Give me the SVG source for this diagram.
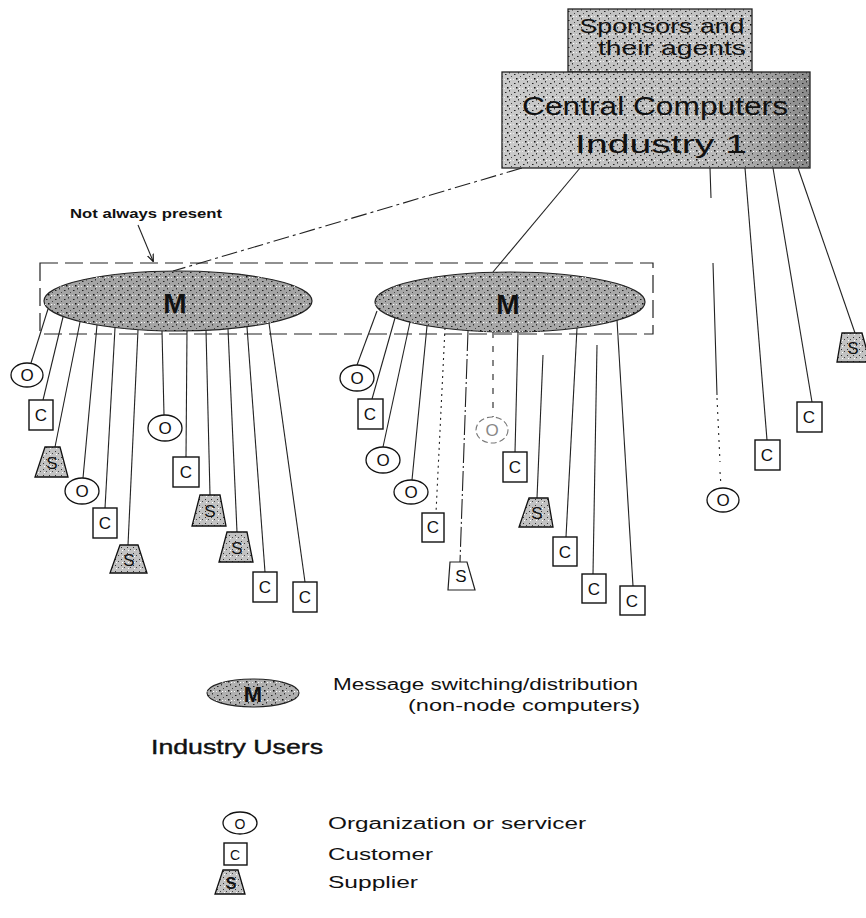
<svg xmlns="http://www.w3.org/2000/svg" width="866" height="918" viewBox="0 0 866 918">
<style>
  text { font-family: "Liberation Sans", Arial, sans-serif; fill: #111; }
  .lbl { font-size: 17px; text-anchor: middle; }
  .big { font-size: 26px; text-anchor: middle; }
  .mid { font-size: 21px; text-anchor: middle; }
  .m { font-size: 28px; font-weight: bold; text-anchor: middle; }
  .leg { font-size: 16px; }
  .o { fill: #fff; stroke: #111; stroke-width: 1.3; }
  .c { fill: #fff; stroke: #111; stroke-width: 1.4; }
  .s { fill: url(#sfill); stroke: #111; stroke-width: 1.3; }
  .ln { fill: none; stroke: #222; stroke-width: 1.1; }
  .noise { fill: url(#speck); }
</style>
<defs>
  <pattern id="speck" width="9" height="9" patternUnits="userSpaceOnUse">
    <rect x="1" y="2" width="1.5" height="1" fill="#222"/>
    <rect x="5" y="0" width="1" height="1.5" fill="#333"/>
    <rect x="3" y="6" width="1.5" height="1.5" fill="#111"/>
    <rect x="7" y="4" width="1" height="1" fill="#444"/>
    <rect x="0" y="7" width="1" height="1" fill="#eee"/>
    <rect x="6" y="7" width="1.2" height="1" fill="#fff"/>
  </pattern>
  <pattern id="sfill" width="6" height="6" patternUnits="userSpaceOnUse">
    <rect width="6" height="6" fill="#c2c2c2"/>
    <rect x="1" y="1" width="1" height="1" fill="#333"/>
    <rect x="4" y="3" width="1" height="1" fill="#444"/>
    <rect x="2" y="4" width="1" height="1" fill="#fff"/>
  </pattern>
  <linearGradient id="boxg" x1="0" y1="0" x2="1" y2="0">
    <stop offset="0" stop-color="#cacaca"/>
    <stop offset="0.7" stop-color="#bababa"/>
    <stop offset="1" stop-color="#8a8a8a"/>
  </linearGradient>
  <marker id="arr" viewBox="0 0 10 10" refX="9" refY="5" markerWidth="7" markerHeight="7" orient="auto">
    <path d="M0,1 L10,5 L0,9" fill="none" stroke="#111" stroke-width="1.5"/>
  </marker>
</defs>

<rect width="866" height="918" fill="#fff"/>

<g id="not-always-present">
  <rect x="40" y="263" width="613" height="71" fill="none" stroke="#222" stroke-width="1.2" stroke-dasharray="18 7"/>
  <text x="70" y="218" font-size="13" font-weight="bold" textLength="152" lengthAdjust="spacingAndGlyphs">Not always present</text>
</g>

<g id="connectors">
  <path class="ln" d="M522,168 L173,271" stroke-dasharray="16 4 3 4"/>
  <path class="ln" d="M580,168 L493,272"/>
  <path class="ln" d="M138,225 L153,261" marker-end="url(#arr)"/>
  <path class="ln" d="M710,168 L711,198 M713,263 L717,395"/>
  <path class="ln" d="M717,398 L720,462 M720,472 L721,486" stroke-dasharray="2 5"/>
  <path class="ln" d="M745,168 L767,440"/>
  <path class="ln" d="M773,168 L812,402"/>
  <path class="ln" d="M798,168 L855,333"/>
  <path class="ln" d="M48,309 L31,363"/>
  <path class="ln" d="M63,317 L43,400"/>
  <path class="ln" d="M80,322 L55,447"/>
  <path class="ln" d="M97,325 L83,478"/>
  <path class="ln" d="M115,328 L105,508"/>
  <path class="ln" d="M138,330 L128,545"/>
  <path class="ln" d="M162,331 L164,415"/>
  <path class="ln" d="M187,331 L186,457"/>
  <path class="ln" d="M206,330 L210,495"/>
  <path class="ln" d="M228,329 L237,532"/>
  <path class="ln" d="M247,327 L265,572"/>
  <path class="ln" d="M269,323 L305,582"/>
  <path class="ln" d="M377,311 L357,365"/>
  <path class="ln" d="M395,318 L372,399"/>
  <path class="ln" d="M410,322 L383,447"/>
  <path class="ln" d="M427,326 L412,480"/>
  <path class="ln" d="M445,328 L436,513" stroke-dasharray="2 4" stroke="#555"/>
  <path class="ln" d="M468,331 L460,562" stroke-dasharray="20 3 2 3"/>
  <path class="ln" d="M493,332 L493,417" stroke-dasharray="6 8" stroke="#666"/>
  <path class="ln" d="M518,332 L515,452"/>
  <path class="ln" d="M543,355 L537,498"/>
  <path class="ln" d="M577,328 L566,537"/>
  <path class="ln" d="M597,345 L593,574"/>
  <path class="ln" d="M617,320 L633,586"/>
</g>

<g id="sponsors">
  <rect x="568" y="9" width="184" height="63" fill="#c2c2c2" stroke="#222" stroke-width="1.3"/>
  <rect x="568" y="9" width="184" height="63" class="noise"/>
  <text x="662" y="33" class="mid" textLength="165" lengthAdjust="spacingAndGlyphs">Sponsors and</text>
  <text x="672" y="55" class="mid" textLength="148" lengthAdjust="spacingAndGlyphs">their agents</text>
</g>

<g id="central-computers">
  <rect x="502" y="72" width="308" height="96" fill="url(#boxg)" stroke="#222" stroke-width="1.3"/>
  <rect x="502" y="72" width="308" height="96" class="noise"/>
  <text x="655" y="115" class="big" textLength="266" lengthAdjust="spacingAndGlyphs">Central Computers</text>
  <text x="661" y="153" class="big" textLength="172" lengthAdjust="spacingAndGlyphs">Industry 1</text>
</g>

<g id="m-left">
  <ellipse cx="178" cy="301" rx="134" ry="30" fill="#a4a4a4" stroke="#222" stroke-width="1.2"/>
  <ellipse cx="178" cy="301" rx="134" ry="30" class="noise"/>
  <text x="175" y="313" class="m">M</text>
</g>
<g id="m-middle">
  <ellipse cx="510" cy="302" rx="135" ry="30" fill="#a8a8a8" stroke="#222" stroke-width="1.2"/>
  <ellipse cx="510" cy="302" rx="135" ry="30" class="noise"/>
  <text x="508" y="314" class="m">M</text>
</g>

<g id="l1"><ellipse cx="27" cy="375" rx="16" ry="12" class="o"/><text x="27" y="381" class="lbl">O</text></g>
<g id="l2"><rect x="29" y="400" width="24" height="30" class="c"/><text x="41" y="421" class="lbl">C</text></g>
<g id="l3"><polygon points="45,447 60,447 68,477 35,477" class="s"/><text x="52" y="469" class="lbl">S</text></g>
<g id="l4"><ellipse cx="82" cy="491" rx="17" ry="13" class="o"/><text x="82" y="497" class="lbl">O</text></g>
<g id="l5"><rect x="93" y="508" width="24" height="30" class="c"/><text x="105" y="529" class="lbl">C</text></g>
<g id="l6"><polygon points="120,545 138,545 147,573 110,573" class="s"/><text x="129" y="566" class="lbl">S</text></g>
<g id="l7"><ellipse cx="165" cy="428" rx="17" ry="13" class="o"/><text x="165" y="434" class="lbl">O</text></g>
<g id="l8"><rect x="173" y="457" width="26" height="30" class="c"/><text x="186" y="478" class="lbl">C</text></g>
<g id="l9"><polygon points="200,495 220,495 226,526 192,526" class="s"/><text x="210" y="517" class="lbl">S</text></g>
<g id="l10"><polygon points="227,532 247,532 253,562 219,562" class="s"/><text x="237" y="554" class="lbl">S</text></g>
<g id="l11"><rect x="253" y="572" width="24" height="30" class="c"/><text x="265" y="593" class="lbl">C</text></g>
<g id="l12"><rect x="293" y="582" width="24" height="30" class="c"/><text x="305" y="603" class="lbl">C</text></g>

<g id="m1"><ellipse cx="357" cy="378" rx="17" ry="13" class="o"/><text x="357" y="384" class="lbl">O</text></g>
<g id="m2"><rect x="358" y="399" width="25" height="30" class="c"/><text x="370" y="420" class="lbl">C</text></g>
<g id="m3"><ellipse cx="383" cy="460" rx="17" ry="13" class="o"/><text x="383" y="466" class="lbl">O</text></g>
<g id="m4"><ellipse cx="411" cy="492" rx="17" ry="12" class="o"/><text x="411" y="498" class="lbl">O</text></g>
<g id="m5"><rect x="422" y="513" width="22" height="29" class="c"/><text x="433" y="533" class="lbl">C</text></g>
<g id="m6"><polygon points="450,562 467,562 475,590 448,590" fill="#fff" stroke="#222" stroke-width="1.2"/><text x="461" y="582" class="lbl">S</text></g>
<g id="m7"><ellipse cx="492" cy="430" rx="16" ry="13" fill="#fff" stroke="#777" stroke-width="1.1" stroke-dasharray="6 3"/><text x="492" y="436" class="lbl" style="fill:#888">O</text></g>
<g id="m8"><rect x="503" y="452" width="24" height="30" class="c"/><text x="515" y="473" class="lbl">C</text></g>
<g id="m9"><polygon points="529,498 548,498 553,527 519,527" class="s"/><text x="537" y="519" class="lbl">S</text></g>
<g id="m10"><rect x="553" y="537" width="24" height="29" class="c"/><text x="565" y="558" class="lbl">C</text></g>
<g id="m11"><rect x="582" y="574" width="24" height="29" class="c"/><text x="594" y="595" class="lbl">C</text></g>
<g id="m12"><rect x="620" y="586" width="25" height="29" class="c"/><text x="632" y="607" class="lbl">C</text></g>

<g id="r1"><ellipse cx="723" cy="500" rx="16" ry="12" class="o"/><text x="723" y="506" class="lbl">O</text></g>
<g id="r2"><rect x="755" y="440" width="25" height="30" class="c"/><text x="767" y="461" class="lbl">C</text></g>
<g id="r3"><rect x="797" y="402" width="25" height="30" class="c"/><text x="809" y="423" class="lbl">C</text></g>
<g id="r4"><polygon points="842,333 862,333 870,362 837,362" class="s"/><text x="853" y="354" class="lbl">S</text></g>

<g id="legend">
  <g id="legend-m">
    <ellipse cx="253" cy="693" rx="46" ry="14" fill="#b0b0b0" stroke="#222" stroke-width="1.1"/>
    <ellipse cx="253" cy="693" rx="46" ry="14" class="noise"/>
    <text x="253" y="702" font-size="22" font-weight="bold" text-anchor="middle">M</text>
    <text x="333" y="690" class="leg" textLength="305" lengthAdjust="spacingAndGlyphs">Message switching/distribution</text>
    <text x="640" y="711" class="leg" text-anchor="end" textLength="232" lengthAdjust="spacingAndGlyphs">(non-node computers)</text>
  </g>
  <text x="151" y="754" font-size="20" textLength="172" lengthAdjust="spacingAndGlyphs" style="fill:#111;stroke:#111;stroke-width:0.4">Industry Users</text>
  <g id="legend-o">
    <ellipse cx="240" cy="823" rx="17" ry="11" class="o"/>
    <text x="240" y="829" font-size="14" text-anchor="middle">O</text>
    <text x="328" y="829" class="leg" textLength="258" lengthAdjust="spacingAndGlyphs">Organization or servicer</text>
  </g>
  <g id="legend-c">
    <rect x="224" y="843" width="23" height="22" class="c"/>
    <text x="235" y="860" font-size="14" text-anchor="middle">C</text>
    <text x="328" y="860" class="leg" textLength="105" lengthAdjust="spacingAndGlyphs">Customer</text>
  </g>
  <g id="legend-s">
    <polygon points="223,870 238,870 245,894 215,894" class="s"/>
    <text x="231" y="889" font-size="16" font-weight="bold" text-anchor="middle" font-family="Liberation Serif, serif">S</text>
    <text x="328" y="888" class="leg" textLength="90" lengthAdjust="spacingAndGlyphs">Supplier</text>
  </g>
</g>
</svg>
